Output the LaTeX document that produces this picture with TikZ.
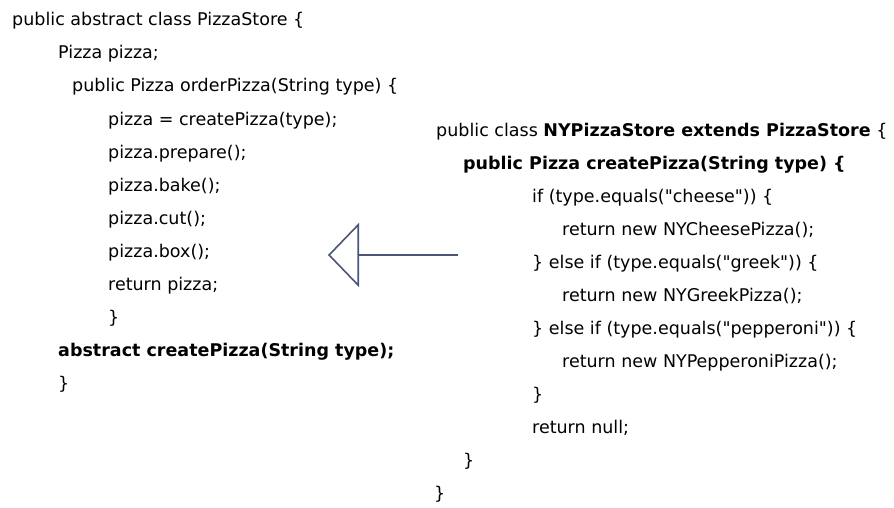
\documentclass[tikz,border=0pt]{standalone}
\usepackage{fontspec}
\setmainfont{DejaVu Sans}[Ligatures=TeXOff]
\usetikzlibrary{arrows.meta}
\definecolor{umlgray}{HTML}{4B5576}
\tikzset{
  code/.style={anchor=base west, inner sep=0pt, font=\fontsize{17.5}{20}\selectfont},
  codebold/.style={code, font=\fontsize{17.5}{20}\selectfont\bfseries},
  inherit/.style={draw=umlgray, line width=1.8pt,
    -{Triangle[open, length=31pt, width=64pt, line width=1.6pt]}}
}
\begin{document}
\begin{tikzpicture}[x=1pt, y=-1pt]
  \useasboundingbox (0,0) rectangle (894,508);

  % abstract superclass
  \node[code] (l1)  at (12,26)   {public abstract class PizzaStore \{};
  \node[code] (l2)  at (58,59)   {Pizza pizza;};
  \node[code] (l3)  at (72,92)   {public Pizza orderPizza(String type) \{};
  \node[code] (l4)  at (108,125) {pizza = createPizza(type);};
  \node[code] (l5)  at (108,158) {pizza.prepare();};
  \node[code] (l6)  at (108,191) {pizza.bake();};
  \node[code] (l7)  at (108,224) {pizza.cut();};
  \node[code] (l8)  at (108,257) {pizza.box();};
  \node[code] (l9)  at (108,290) {return pizza;};
  \node[code] (l10) at (108,323) {\}};
  \node[codebold] (l11) at (58,356) {abstract createPizza(String type);};
  \node[code] (l12) at (58,389)  {\}};

  % concrete subclass
  \node[code] (r1)  at (436,136) {public class \textbf{NYPizzaStore extends PizzaStore} \{};
  \node[codebold] (r2) at (463,169) {public Pizza createPizza(String type) \{};
  \node[code] (r3)  at (532,202) {if (type.equals("cheese")) \{};
  \node[code] (r4)  at (562,235) {return new NYCheesePizza();};
  \node[code] (r5)  at (532,268) {\} else if (type.equals("greek")) \{};
  \node[code] (r6)  at (562,301) {return new NYGreekPizza();};
  \node[code] (r7)  at (532,334) {\} else if (type.equals("pepperoni")) \{};
  \node[code] (r8)  at (562,367) {return new NYPepperoniPizza();};
  \node[code] (r9)  at (532,400) {\}};
  \node[code] (r10) at (532,433) {return null;};
  \node[code] (r11) at (463,466) {\}};
  \node[code] (r12) at (434,499) {\}};

  % generalization arrow
  \coordinate (sub) at (458,255);
  \coordinate (super) at (328,255);
  \draw[inherit] (sub) -- (super);
\end{tikzpicture}
\end{document}
